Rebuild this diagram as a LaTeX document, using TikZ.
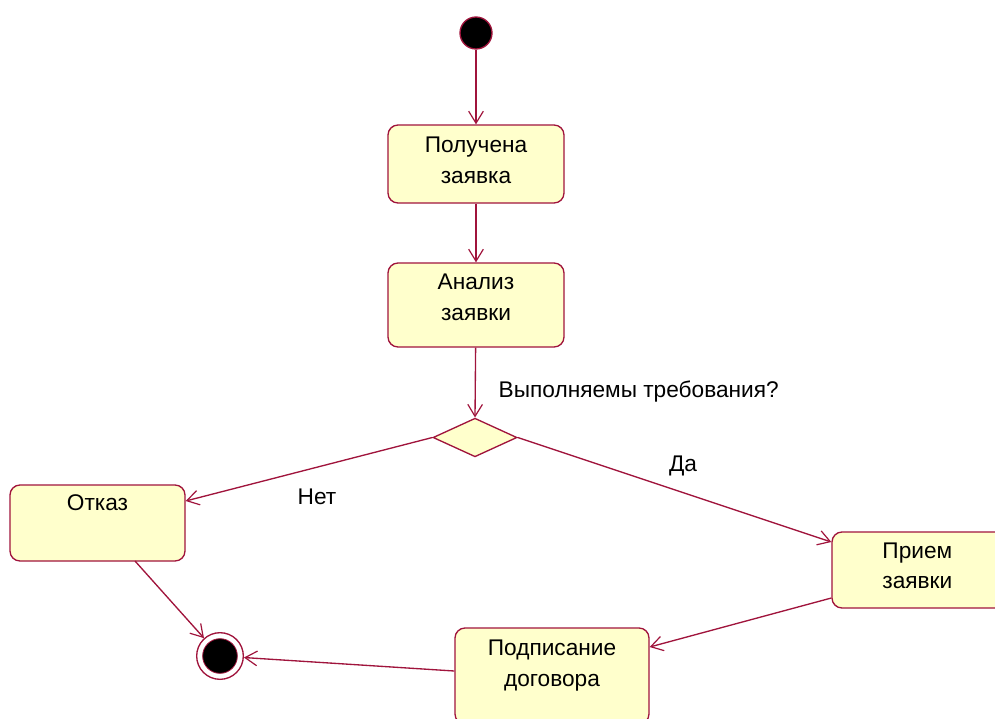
\documentclass[tikz,border=0pt]{standalone}
\usepackage{fontspec}
\setmainfont{Liberation Sans}
\usetikzlibrary{arrows.meta,shapes.geometric}
\definecolor{umlline}{RGB}{160,20,60}
\definecolor{umlfill}{RGB}{255,255,204}
\tikzset{
  activity/.style={draw=umlline, fill=umlfill, line width=1pt, rounded corners=7.5pt,
    rectangle, inner sep=0pt},
  acttext/.style={font=\fontsize{17}{23}\selectfont, align=center, anchor=north, text=black},
  flow/.style={draw=umlline, line width=1pt, -{Straight Barb[length=9pt,width=11pt,line width=0.9pt]}},
  decision/.style={draw=umlline, fill=umlfill, line width=1pt, diamond, aspect=2.15,
    minimum width=63pt, minimum height=29pt, inner sep=0pt},
  guard/.style={font=\fontsize{17}{20}\selectfont, text=black},
}
\begin{document}
\begin{tikzpicture}[x=0.75pt,y=-0.75pt]
\useasboundingbox (0,0) rectangle (995,718);
\clip (0,0) rectangle (995,718);

% initial state
\node[circle, draw=umlline, fill=black, line width=1pt, minimum size=24pt, inner sep=0pt] (start) at (476,33) {};

% activities
\node[activity, minimum width=132pt, minimum height=58.5pt] (rec) at (476,164) {};
\node[acttext] at ([yshift=-6pt]rec.north) {Получена\\заявка};

\node[activity, minimum width=132pt, minimum height=63pt] (ana) at (476,305) {};
\node[acttext] at ([yshift=-5.5pt]ana.north) {Анализ\\заявки};

\node[decision] (dec) at (475,437.5) {};

\node[activity, minimum width=131.25pt, minimum height=57pt] (otk) at (97.5,523) {};
\node[acttext] at ([yshift=-4.5pt]otk.north) {Отказ};

\node[activity, minimum width=132pt, minimum height=57pt] (prm) at (920,570) {};
\node[acttext] at ([xshift=-2pt,yshift=-5pt]prm.north) {Прием\\заявки};

\node[activity, minimum width=145.5pt, minimum height=72pt] (pod) at (552,676) {};
\node[acttext] at ([yshift=-6pt]pod.north) {Подписание\\договора};

% final state
\node[circle, draw=umlline, fill=white, line width=1pt, minimum size=35pt, inner sep=0pt] (fin) at (220,656) {};
\node[circle, draw=umlline, fill=black, line width=0.6pt, minimum size=26pt, inner sep=0pt] at (fin.center) {};

% transitions
\draw[flow] (start) -- (rec);
\draw[flow] (rec) -- (ana);
\draw[flow] (ana) -- (dec.north);
\draw[flow] (dec.west) -- (otk.east |- 0,501);
\draw[flow] (dec.east) -- (prm.west |- 0,542);
\coordinate (prmout) at (prm.west |- 0,598);
\draw[flow] (prmout) -- (pod.east |- 0,647);
\coordinate (podout) at (pod.west |- 0,671);
\draw[flow] (podout) -- (fin);
\coordinate (otkout) at (135,561);
\draw[flow] (otkout) -- (fin);

% guards
\node[guard, anchor=west] (q) at (494,392) {Выполняемы требования?};
\node[guard] (yes) at (683,466) {Да};
\node[guard] (no) at (317,497) {Нет};
\end{tikzpicture}
\end{document}
